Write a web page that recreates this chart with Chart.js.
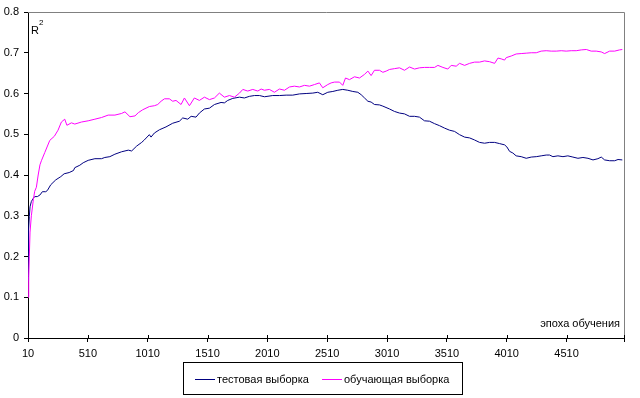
<!DOCTYPE html>
<html>
<head>
<meta charset="utf-8">
<script src="https://cdn.jsdelivr.net/npm/chart.js@4/dist/chart.umd.min.js"></script>
<style>
html,body{margin:0;padding:0;background:#fff;}
#wrap{width:640px;height:398px;position:relative;}
</style>
</head>
<body>
<div id="wrap"><canvas id="c" width="640" height="398"></canvas></div>
<script>
// ---- data ----
const xTickLabels = ['10','510','1010','1510','2010','2510','3010','3510','4010','4510'];
const xMin = 10;
const xMax = 4990;
const seriesNames = ['тестовая выборка', 'обучающая выборка'];
const xAxisTitle = 'эпоха обучения';

const testEpochs = [10,13,16,21,27,38,55,66,88,110,130,158,172,200,242,284,312,354,390,401,443,471,513,569,624,652,694,736,792,848,876,918,960,982,1024,1038,1066,1108,1163,1219,1275,1303,1345,1373,1414,1442,1484,1526,1568,1623,1651,1679,1721,1777,1818,1860,1902,1944,1986,2055,2111,2167,2222,2278,2334,2390,2431,2473,2515,2557,2599,2640,2682,2724,2766,2794,2822,2850,2877,2905,2947,2975,3031,3072,3114,3156,3198,3240,3281,3323,3365,3407,3449,3491,3532,3574,3616,3658,3700,3741,3783,3825,3867,3909,3951,3992,4011,4034,4061,4089,4131,4173,4215,4257,4298,4340,4368,4396,4438,4480,4521,4563,4605,4647,4689,4731,4772,4800,4828,4870,4912,4940,4976];
const testR2 = [0.14,0.20,0.265,0.298,0.322,0.335,0.343,0.347,0.347,0.351,0.359,0.359,0.362,0.376,0.388,0.396,0.403,0.406,0.411,0.418,0.424,0.43,0.436,0.44,0.44,0.443,0.445,0.451,0.457,0.461,0.459,0.471,0.48,0.486,0.499,0.493,0.503,0.511,0.518,0.527,0.532,0.54,0.537,0.544,0.542,0.552,0.562,0.564,0.573,0.578,0.577,0.583,0.588,0.591,0.589,0.593,0.595,0.595,0.592,0.595,0.595,0.596,0.596,0.599,0.6,0.601,0.603,0.597,0.603,0.605,0.608,0.61,0.608,0.605,0.603,0.597,0.589,0.581,0.579,0.573,0.572,0.569,0.562,0.556,0.552,0.55,0.544,0.544,0.542,0.533,0.532,0.526,0.521,0.515,0.51,0.507,0.499,0.493,0.491,0.486,0.48,0.478,0.48,0.48,0.477,0.474,0.469,0.458,0.454,0.447,0.445,0.441,0.444,0.445,0.447,0.449,0.449,0.445,0.447,0.445,0.447,0.444,0.441,0.443,0.441,0.437,0.44,0.444,0.437,0.435,0.435,0.438,0.437];

const trainEpochs = [10,16,21,27,38,55,66,80,95,110,122,150,192,230,261,289,317,335,373,401,457,513,569,624,680,736,792,820,862,904,932,968,1024,1066,1094,1122,1150,1191,1219,1247,1289,1317,1359,1400,1442,1484,1526,1568,1609,1651,1693,1735,1777,1805,1846,1888,1930,1958,1985,2027,2069,2111,2153,2195,2236,2278,2320,2362,2404,2445,2473,2515,2543,2571,2613,2640,2663,2696,2738,2780,2822,2850,2877,2905,2947,2975,3003,3031,3072,3114,3156,3198,3240,3281,3323,3365,3407,3435,3477,3518,3546,3588,3616,3658,3700,3741,3783,3825,3867,3909,3937,3964,3992,4006,4048,4089,4131,4173,4215,4257,4298,4340,4382,4424,4466,4507,4549,4591,4633,4675,4716,4758,4800,4828,4870,4912,4953,4976];
const trainR2 = [0.10,0.15,0.20,0.26,0.30,0.34,0.36,0.37,0.40,0.425,0.435,0.455,0.485,0.495,0.51,0.53,0.537,0.522,0.528,0.525,0.53,0.533,0.537,0.541,0.547,0.547,0.551,0.555,0.543,0.545,0.553,0.56,0.568,0.57,0.573,0.581,0.587,0.587,0.581,0.583,0.573,0.589,0.57,0.589,0.583,0.591,0.585,0.589,0.601,0.591,0.595,0.591,0.601,0.61,0.606,0.61,0.606,0.611,0.608,0.61,0.603,0.611,0.608,0.616,0.618,0.616,0.62,0.618,0.622,0.626,0.614,0.622,0.626,0.628,0.628,0.62,0.638,0.634,0.641,0.638,0.647,0.655,0.644,0.657,0.657,0.652,0.655,0.659,0.661,0.663,0.657,0.665,0.66,0.663,0.664,0.664,0.664,0.669,0.664,0.66,0.669,0.667,0.674,0.669,0.674,0.677,0.677,0.68,0.678,0.674,0.687,0.685,0.682,0.688,0.692,0.697,0.698,0.699,0.70,0.70,0.704,0.705,0.704,0.704,0.705,0.704,0.705,0.705,0.707,0.708,0.704,0.704,0.702,0.698,0.704,0.704,0.707,0.708];

const seriesColors = ['#000080', '#FF00FF'];
// ---------------------------------

const xTickValues = xTickLabels.map(s => parseInt(s, 10));
const FONT = "'Liberation Sans', Arial, sans-serif";

const toPts = (xs, ys) => xs.map((x, i) => ({x: x, y: ys[i]}));

const extras = {
  id: 'extras',
  afterDraw(chart) {
    const ctx = chart.ctx;
    const a = chart.chartArea;
    const xs = chart.scales.x;
    ctx.save();
    // grey top and right frame
    ctx.strokeStyle = '#808080';
    ctx.lineWidth = 1;
    ctx.beginPath();
    ctx.moveTo(a.left, a.top + 0.5);
    ctx.lineTo(a.right + 0.5, a.top + 0.5);
    ctx.lineTo(a.right + 0.5, a.bottom);
    ctx.stroke();
    // x tick marks crossing the axis (upper part)
    ctx.strokeStyle = '#000';
    ctx.beginPath();
    xs.ticks.forEach(t => {
      const px = Math.round(xs.getPixelForValue(t.value)) + 0.5;
      ctx.moveTo(px, a.bottom - 3);
      ctx.lineTo(px, a.bottom);
    });
    ctx.stroke();
    // R^2 label
    ctx.fillStyle = '#000';
    ctx.textBaseline = 'middle';
    ctx.textAlign = 'left';
    ctx.font = '11px ' + FONT;
    ctx.fillText('R', a.left + 3, a.top + 19);
    ctx.font = '8px ' + FONT;
    ctx.fillText('2', a.left + 11, a.top + 11);
    // axis title
    ctx.font = '11px ' + FONT;
    ctx.textAlign = 'right';
    ctx.fillText(xAxisTitle, a.right - 4, a.bottom - 14);
    // legend box
    ctx.strokeStyle = '#000';
    ctx.strokeRect(183.5, 362.5, 279, 32);
    const items = [{x: 195}, {x: 322}];
    chart.data.datasets.forEach((ds, i) => {
      const lx = items[i].x;
      ctx.strokeStyle = ds.borderColor;
      ctx.beginPath();
      ctx.moveTo(lx, 379.5);
      ctx.lineTo(lx + 20, 379.5);
      ctx.stroke();
      ctx.fillStyle = '#000';
      ctx.textAlign = 'left';
      ctx.fillText(ds.label, lx + 22, 380);
    });
    ctx.restore();
  }
};

new Chart(document.getElementById('c'), {
  type: 'line',
  data: {
    datasets: [
      {label: seriesNames[0], data: toPts(testEpochs, testR2), borderColor: seriesColors[0], backgroundColor: seriesColors[0], borderWidth: 1, pointRadius: 0, tension: 0, order: 1},
      {label: seriesNames[1], data: toPts(trainEpochs, trainR2), borderColor: seriesColors[1], backgroundColor: seriesColors[1], borderWidth: 1, pointRadius: 0, tension: 0, order: 0}
    ]
  },
  options: {
    responsive: false,
    animation: false,
    events: [],
    layout: {padding: {top: 12, right: 16, left: 0, bottom: 0}},
    plugins: {legend: {display: false}, tooltip: {enabled: false}, title: {display: false}},
    scales: {
      x: {
        type: 'linear',
        min: xMin,
        max: xMax,
        afterBuildTicks(scale) {
          scale.ticks = xTickValues.map(v => ({value: v})).concat([{value: xMax}]);
        },
        afterFit(scale) { scale.height = 60; },
        ticks: {
          autoSkip: false,
          maxRotation: 0,
          minRotation: 0,
          color: '#000',
          font: {family: FONT, size: 11},
          padding: 5,
          callback: (v) => (xTickValues.indexOf(v) >= 0 ? String(v) : '')
        },
        grid: {display: true, drawOnChartArea: false, drawTicks: true, tickLength: 4, color: '#000', lineWidth: 1},
        border: {display: true, color: '#000', width: 1}
      },
      y: {
        min: 0,
        max: 0.8,
        afterFit(scale) { scale.width = 28; },
        ticks: {
          stepSize: 0.1,
          color: '#000',
          font: {family: FONT, size: 11},
          padding: 5,
          callback: (v) => String(Math.round(v * 10) / 10)
        },
        grid: {display: true, drawOnChartArea: false, drawTicks: true, tickLength: 4, color: '#000', lineWidth: 1},
        border: {display: true, color: '#000', width: 1}
      }
    }
  },
  plugins: [extras]
});
</script>
</body>
</html>
